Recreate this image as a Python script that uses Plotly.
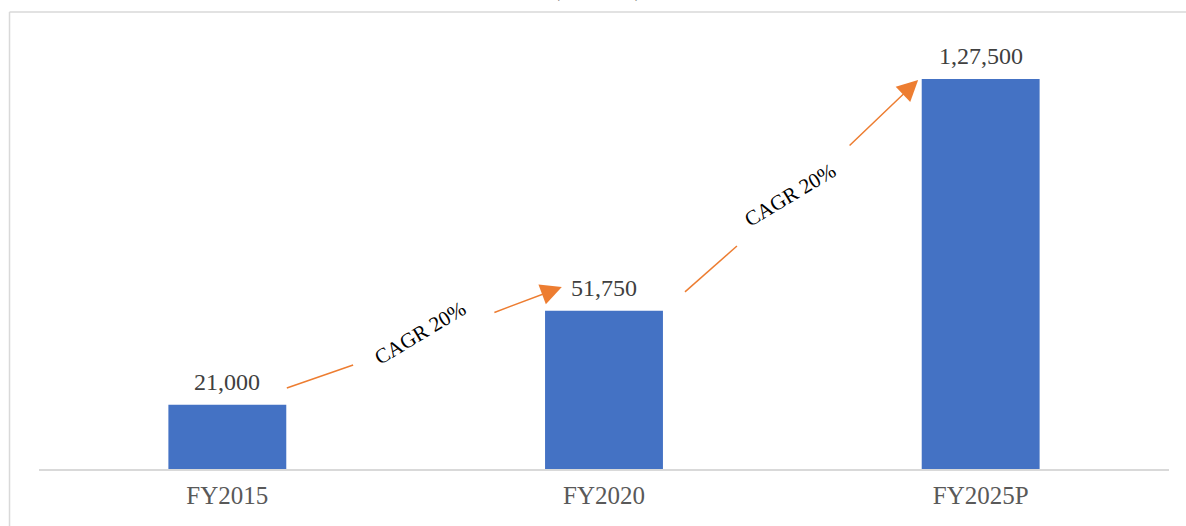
import plotly.graph_objects as go

years = ["FY2015", "FY2020", "FY2025P"]
values = [21000, 51750, 127500]
value_labels = ["21,000", "51,750", "1,27,500"]
cagr_labels = ["CAGR 20%", "CAGR 20%"]

BAR = "#4472C4"
ORANGE = "#ED7D31"
GREY = "#595959"
FONT = "Liberation Serif, Times New Roman, serif"

fig = go.Figure()
fig.add_trace(go.Bar(
    x=years, y=values,
    marker=dict(color=BAR, line=dict(width=0)),
    width=0.313, hoverinfo="x+y",
))

annotations = []
# value labels above each bar
for yr, v, lab in zip(years, values, value_labels):
    annotations.append(dict(xref="x", yref="y", x=yr, y=v, text=lab, showarrow=False,
                            yanchor="bottom", yshift=8,
                            font=dict(family=FONT, size=24, color="#404040")))

# CAGR arrows between bars: (tail segment, gap for text, head segment)
arrows = [
    dict(p=[(0.158, 26500), (0.334, 34000), (0.705, 51000), (0.888, 59500)], t=(0.512, 44500)),
    dict(p=[(1.215, 57900), (1.353, 72900), (1.648, 105300), (1.834, 127200)], t=(1.494, 89600)),
]
shapes = []
for a, lab in zip(arrows, cagr_labels):
    (x0, y0), (x1, y1), (x2, y2), (x3, y3) = a["p"]
    shapes.append(dict(type="line", xref="x", yref="y", x0=x0, y0=y0, x1=x1, y1=y1,
                       line=dict(color=ORANGE, width=1.5)))
    annotations.append(dict(xref="x", yref="y", axref="x", ayref="y", x=x3, y=y3, ax=x2, ay=y2,
                            text="", showarrow=True, arrowhead=2, arrowsize=2.8, arrowwidth=1.5,
                            arrowcolor=ORANGE))
    annotations.append(dict(xref="x", yref="y", x=a["t"][0], y=a["t"][1], text=lab, showarrow=False,
                            textangle=-31, font=dict(family=FONT, size=21, color="black")))

# chart border (light grey frame, partially visible)
shapes.append(dict(type="line", xref="paper", yref="paper", x0=-0.0261, x1=1.05, y0=1, y1=1,
                   line=dict(color="#d9d9d9", width=1.5)))
shapes.append(dict(type="line", xref="paper", yref="paper", x0=-0.0261, x1=-0.0261, y0=1, y1=-0.2,
                   line=dict(color="#d9d9d9", width=1.5)))

# chart title, cropped at the top edge like the source image
annotations.append(dict(xref="paper", yref="paper", x=0.494, y=1.0197, yanchor="bottom", showarrow=False,
                        text="(₹ Crore)", font=dict(family=FONT, size=24, color=GREY)))

fig.update_layout(
    width=1186, height=526,
    margin=dict(l=39, r=17, t=12, b=57),
    paper_bgcolor="white", plot_bgcolor="white",
    showlegend=False,
    shapes=shapes, annotations=annotations,
    xaxis=dict(showline=True, linecolor="#d9d9d9", linewidth=1.5, ticks="", showgrid=False,
               tickfont=dict(family=FONT, size=25, color=GREY), ticklabelstandoff=3),
    yaxis=dict(visible=False, range=[0, 149400]),
)

fig.write_html("out.html", config={"displayModeBar": False},
               post_script="document.body.style.margin='0';")
